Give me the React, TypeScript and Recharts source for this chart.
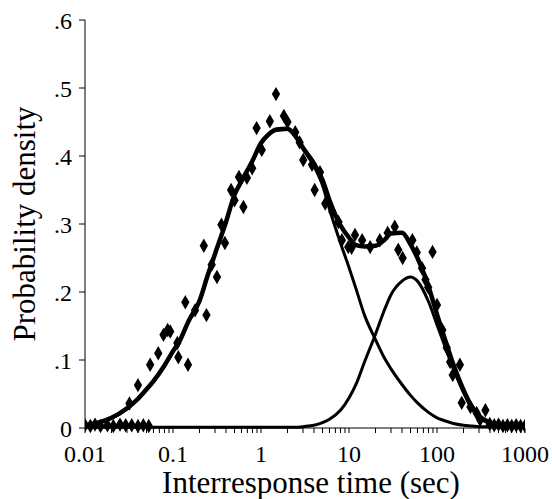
import { ComposedChart, Line, Scatter, XAxis, YAxis, ZAxis, Label } from 'recharts';

// fitted curves, sampled on a log grid (seconds)
const curveX = [
  0.01, 0.015, 0.02, 0.03, 0.04, 0.05, 0.06, 0.08, 0.1, 0.12, 0.15, 0.2, 0.25, 0.3, 0.4, 0.5, 0.6, 0.8,
  1, 1.2, 1.5, 2, 2.5, 3, 4, 5, 6, 8, 10, 12, 15, 20, 25, 30, 40, 50, 60, 80, 100, 120, 150, 200, 250,
  300, 400, 500, 600, 800, 1000,
];
const shortComponent = [
  0.003, 0.008, 0.014, 0.028, 0.042, 0.056, 0.068, 0.091, 0.112, 0.128, 0.156, 0.186, 0.225, 0.255,
  0.302, 0.342, 0.362, 0.392, 0.418, 0.43, 0.438, 0.439, 0.427, 0.41, 0.385, 0.357, 0.322, 0.272,
  0.236, 0.205, 0.166, 0.13, 0.104, 0.087, 0.064, 0.048, 0.037, 0.023, 0.015, 0.011, 0.007, 0.004,
  0.003, 0.002, 0.002, 0.001, 0.001, 0.001, 0.001,
];
const longComponent = [
  0.001, 0.001, 0.001, 0.001, 0.001, 0.001, 0.001, 0.001, 0.001, 0.001, 0.001, 0.001, 0.001, 0.001,
  0.001, 0.001, 0.001, 0.001, 0.001, 0.001, 0.001, 0.001, 0.001, 0.002, 0.004, 0.008, 0.013, 0.026,
  0.044, 0.064, 0.097, 0.138, 0.172, 0.196, 0.216, 0.222, 0.216, 0.186, 0.152, 0.124, 0.09, 0.052,
  0.028, 0.016, 0.006, 0.003, 0.002, 0.001, 0.001,
];
const mixtureFit = [
  0.004, 0.009, 0.015, 0.029, 0.043, 0.057, 0.069, 0.092, 0.113, 0.129, 0.157, 0.187, 0.226, 0.256,
  0.303, 0.343, 0.363, 0.393, 0.419, 0.431, 0.439, 0.44, 0.428, 0.412, 0.389, 0.365, 0.335, 0.298,
  0.28, 0.269, 0.267, 0.268, 0.276, 0.286, 0.287, 0.27, 0.25, 0.208, 0.167, 0.135, 0.097, 0.056,
  0.031, 0.018, 0.008, 0.004, 0.003, 0.002, 0.002,
];

// observed histogram (diamonds)
const obsX = [
  0.01, 0.0115, 0.013, 0.015, 0.018, 0.021, 0.025, 0.029, 0.034, 0.04, 0.046, 0.053,
  0.032, 0.04, 0.055, 0.068, 0.078, 0.087, 0.093, 0.112, 0.115, 0.138, 0.148, 0.178, 0.224, 0.24,
  0.275, 0.316, 0.355, 0.389, 0.457, 0.5, 0.562, 0.631, 0.692, 0.794, 0.891, 1.02, 1.26, 1.48, 1.82,
  2.0, 2.45, 2.75, 3.02, 3.8, 4.07, 4.68, 5.37, 6.46, 7.59, 8.3, 9.8, 10.7, 11.7, 14.1, 17.4, 22.4,
  27.5, 33.1, 36.3, 40.7, 52.5, 58.9, 67.6, 74, 79.4, 89, 100, 115, 129, 141, 151, 182, 191, 240,
  282, 309, 355, 398, 447, 501, 562, 631, 708, 794, 891, 1000,
];
const obsY = [
  0.004, 0.003, 0.005, 0.003, 0.004, 0.003, 0.005, 0.004, 0.004, 0.003, 0.004, 0.003,
  0.036, 0.063, 0.093, 0.11, 0.137, 0.144, 0.142, 0.125, 0.104, 0.185, 0.093, 0.173, 0.268, 0.166,
  0.24, 0.222, 0.299, 0.272, 0.35, 0.335, 0.369, 0.325, 0.368, 0.382, 0.441, 0.409, 0.451, 0.491,
  0.459, 0.45, 0.435, 0.42, 0.394, 0.387, 0.35, 0.376, 0.33, 0.318, 0.303, 0.276, 0.266, 0.265,
  0.284, 0.276, 0.266, 0.276, 0.287, 0.296, 0.262, 0.25, 0.276, 0.258, 0.235, 0.218, 0.207, 0.259,
  0.181, 0.144, 0.118, 0.097, 0.078, 0.093, 0.037, 0.031, 0.022, 0.012, 0.026, 0.006, 0.004, 0.005,
  0.003, 0.004, 0.003, 0.004, 0.003, 0.003,
];

const decades = [0.01, 0.1, 1, 10, 100, 1000];
const decadeLabels = ['0.01', '0.1', '1', '10', '100', '1000'];
const minorSteps = [2, 3, 4, 5, 6, 7, 8, 9];
const yTicks = [0, 0.1, 0.2, 0.3, 0.4, 0.5, 0.6];
const yLabels = ['0', '.1', '.2', '.3', '.4', '.5', '.6'];

const xTicks = decades.flatMap((d, i) =>
  i < decades.length - 1 ? [d, ...minorSteps.map((m) => +(d * m).toPrecision(3))] : [d]
);

const SERIF = '"Liberation Serif", "Times New Roman", serif';

const curves = curveX.map((x, i) => ({
  x,
  short: shortComponent[i],
  long: longComponent[i],
  fit: mixtureFit[i],
}));
const observed = obsX.map((x, i) => ({ x, y: obsY[i] }));

// only the decades get a label; minor ticks are bare tick marks
function XTick(props: any) {
  const { x, y, payload } = props;
  const i = decades.indexOf(payload.value);
  if (i < 0) return null;
  return (
    <text x={x} y={y} dy="0.71em" textAnchor="middle" fontFamily={SERIF} fontSize={24} fill="#000">
      {decadeLabels[i]}
    </text>
  );
}

function XTitle(props: any) {
  const vb = props.viewBox;
  return (
    <text
      x={vb.x + vb.width / 2 + 6}
      y={vb.y + 65}
      textAnchor="middle"
      fontFamily={SERIF}
      fontSize={31}
      fill="#000"
    >
      Interresponse time (sec)
    </text>
  );
}

function YTitle(props: any) {
  const vb = props.viewBox;
  const cx = vb.x + 14;
  const cy = vb.y + vb.height / 2;
  return (
    <text
      x={cx}
      y={cy}
      transform={`rotate(-90 ${cx} ${cy})`}
      textAnchor="middle"
      dominantBaseline="central"
      fontFamily={SERIF}
      fontSize={31}
      fill="#000"
    >
      Probability density
    </text>
  );
}

export default function App() {
  return (
    <div style={{ position: 'absolute', left: 0, top: 0, width: 552, height: 499, background: '#fff' }}>
      <ComposedChart
        width={552}
        height={499}
        data={curves}
        margin={{ top: 20, right: 27, left: 10, bottom: 1 }}
      >
        <XAxis
          dataKey="x"
          type="number"
          scale="log"
          domain={[0.01, 1000]}
          ticks={xTicks}
          allowDataOverflow
          interval={0}
          height={70}
          stroke="#000"
          tickSize={5}
          tickMargin={12}
          tick={<XTick />}
        >
          <Label content={<XTitle />} />
        </XAxis>
        <YAxis
          type="number"
          domain={[0, 0.6]}
          ticks={yTicks}
          interval={0}
          width={75}
          stroke="#000"
          tickSize={6}
          tickMargin={7}
          tick={{ fill: '#000', fontSize: 24, fontFamily: SERIF }}
          tickFormatter={(v: number) => yLabels[yTicks.indexOf(v)] ?? ''}
        >
          <Label content={<YTitle />} />
        </YAxis>
        <ZAxis range={[60, 60]} />
        <Line
          dataKey="short"
          type="monotone"
          stroke="#000"
          strokeWidth={3}
          dot={false}
          isAnimationActive={false}
        />
        <Line
          dataKey="long"
          type="monotone"
          stroke="#000"
          strokeWidth={3}
          dot={false}
          isAnimationActive={false}
        />
        <Line
          dataKey="fit"
          type="monotone"
          stroke="#000"
          strokeWidth={4.5}
          dot={false}
          isAnimationActive={false}
        />
        <Scatter
          data={observed}
          dataKey="y"
          shape="diamond"
          fill="#000"
          isAnimationActive={false}
        />
      </ComposedChart>
    </div>
  );
}
